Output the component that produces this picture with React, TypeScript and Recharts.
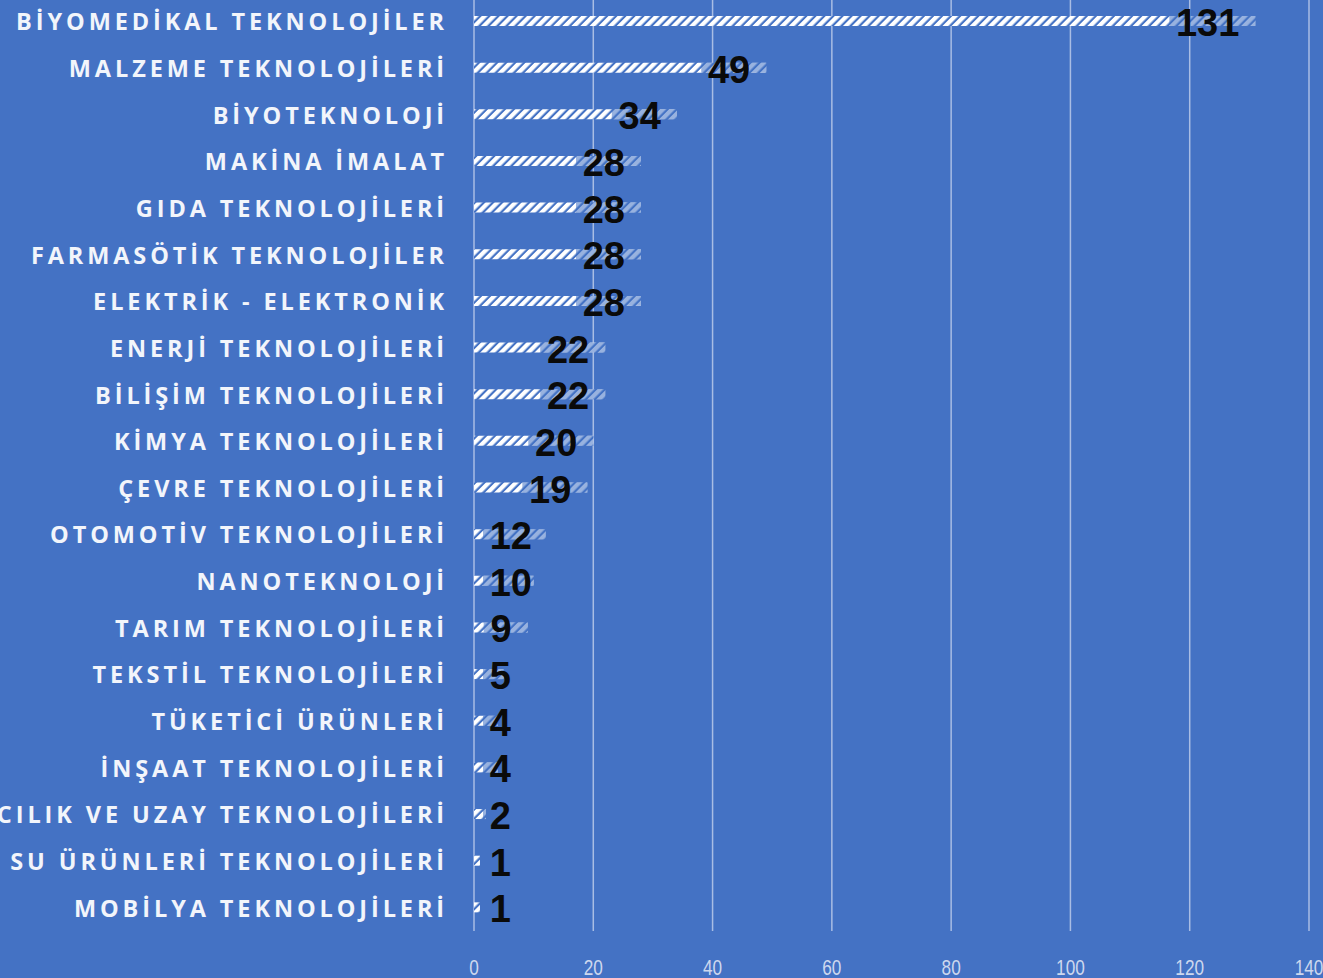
import { BarChart, Bar, XAxis, YAxis, CartesianGrid, LabelList } from 'recharts';

const categories = [
  'BİYOMEDİKAL TEKNOLOJİLER',
  'MALZEME TEKNOLOJİLERİ',
  'BİYOTEKNOLOJİ',
  'MAKİNA İMALAT',
  'GIDA TEKNOLOJİLERİ',
  'FARMASÖTİK TEKNOLOJİLER',
  'ELEKTRİK - ELEKTRONİK',
  'ENERJİ TEKNOLOJİLERİ',
  'BİLİŞİM TEKNOLOJİLERİ',
  'KİMYA TEKNOLOJİLERİ',
  'ÇEVRE TEKNOLOJİLERİ',
  'OTOMOTİV TEKNOLOJİLERİ',
  'NANOTEKNOLOJİ',
  'TARIM TEKNOLOJİLERİ',
  'TEKSTİL TEKNOLOJİLERİ',
  'TÜKETİCİ ÜRÜNLERİ',
  'İNŞAAT TEKNOLOJİLERİ',
  'HAVACILIK VE UZAY TEKNOLOJİLERİ',
  'SU ÜRÜNLERİ TEKNOLOJİLERİ',
  'MOBİLYA TEKNOLOJİLERİ',
];

const counts = [131, 49, 34, 28, 28, 28, 28, 22, 22, 20, 19, 12, 10, 9, 5, 4, 4, 2, 1, 1];

const xTicks = [0, 20, 40, 60, 80, 100, 120, 140];

const BG = '#4472C4';

const data = categories.map((name, i) => ({ name, value: counts[i] }));

// value label: black bold number near the bar end, with a dimming box over the hatch
function ValueLabel(props: any) {
  const { x, y, width, height, value } = props;
  const txt = String(value);
  const textW = txt.length * 21;
  const barEnd = x + width;
  const right = Math.max(barEnd - 16, x + 16 + textW);
  const left = right - textW;
  const boxStart = Math.max(x, left - 7);
  return (
    <g>
      {barEnd > boxStart && (
        <rect x={boxStart} y={y} width={barEnd - boxStart} height={height} fill={BG} fillOpacity={0.55} />
      )}
      <text
        x={right}
        y={y + height / 2 + 2}
        textAnchor="end"
        dominantBaseline="central"
        fontFamily="'Liberation Sans', Arial, sans-serif"
        fontWeight={700}
        fontSize={38}
        fill="#0a0a0a"
      >
        {txt}
      </text>
    </g>
  );
}

function XTick(props: any) {
  const { x, y, payload } = props;
  return (
    <g transform={`translate(${x},${y})`}>
      <text
        transform="scale(0.82,1.05)"
        x={0}
        y={0}
        textAnchor="middle"
        dominantBaseline="central"
        fontFamily="'Liberation Sans', Arial, sans-serif"
        fontSize={21}
        fill="#cdd8ee"
      >
        {payload.value}
      </text>
    </g>
  );
}

function YTick(props: any) {
  const { y, payload } = props;
  return (
    <text
      x={448}
      y={y}
      textAnchor="end"
      dominantBaseline="central"
      fontFamily="'Open Sans', 'DejaVu Sans', sans-serif"
      fontWeight={700}
      fontSize={23.5}
      letterSpacing={3.9}
      fill="#f2f5fb"
    >
      {payload.value}
    </text>
  );
}

export default function App() {
  return (
    <div style={{ position: 'absolute', left: 0, top: 0, width: 1323, height: 978, background: BG, overflow: 'hidden' }}>
      <svg width={0} height={0} style={{ position: 'absolute' }}>
        <defs>
          <pattern id="hatch" patternUnits="userSpaceOnUse" width={6.4} height={6.4} patternTransform="rotate(45)">
            <rect x={0} y={0} width={6.4} height={6.4} fill={BG} />
            <rect x={0} y={0} width={4.2} height={6.4} fill="#ffffff" />
          </pattern>
        </defs>
      </svg>
      <BarChart
        width={1323}
        height={978}
        data={data}
        layout="vertical"
        margin={{ top: -2, right: 14, bottom: 0, left: 0 }}
        barCategoryGap={0}
      >
        <CartesianGrid horizontal={false} vertical stroke="#a9bde4" strokeWidth={1.5} />
        <XAxis
          type="number"
          domain={[0, 140]}
          ticks={xTicks}
          axisLine={false}
          tickLine={false}
          height={47}
          tick={(p: any) => <XTick {...p} y={967} />}
          interval={0}
        />
        <YAxis
          type="category"
          dataKey="name"
          width={474}
          axisLine={false}
          tickLine={false}
          tick={(p: any) => <YTick {...p} />}
          interval={0}
        />
        <Bar dataKey="value" fill="url(#hatch)" barSize={10} isAnimationActive={false}>
          <LabelList dataKey="value" content={(p: any) => <ValueLabel {...p} />} />
        </Bar>
      </BarChart>
    </div>
  );
}
